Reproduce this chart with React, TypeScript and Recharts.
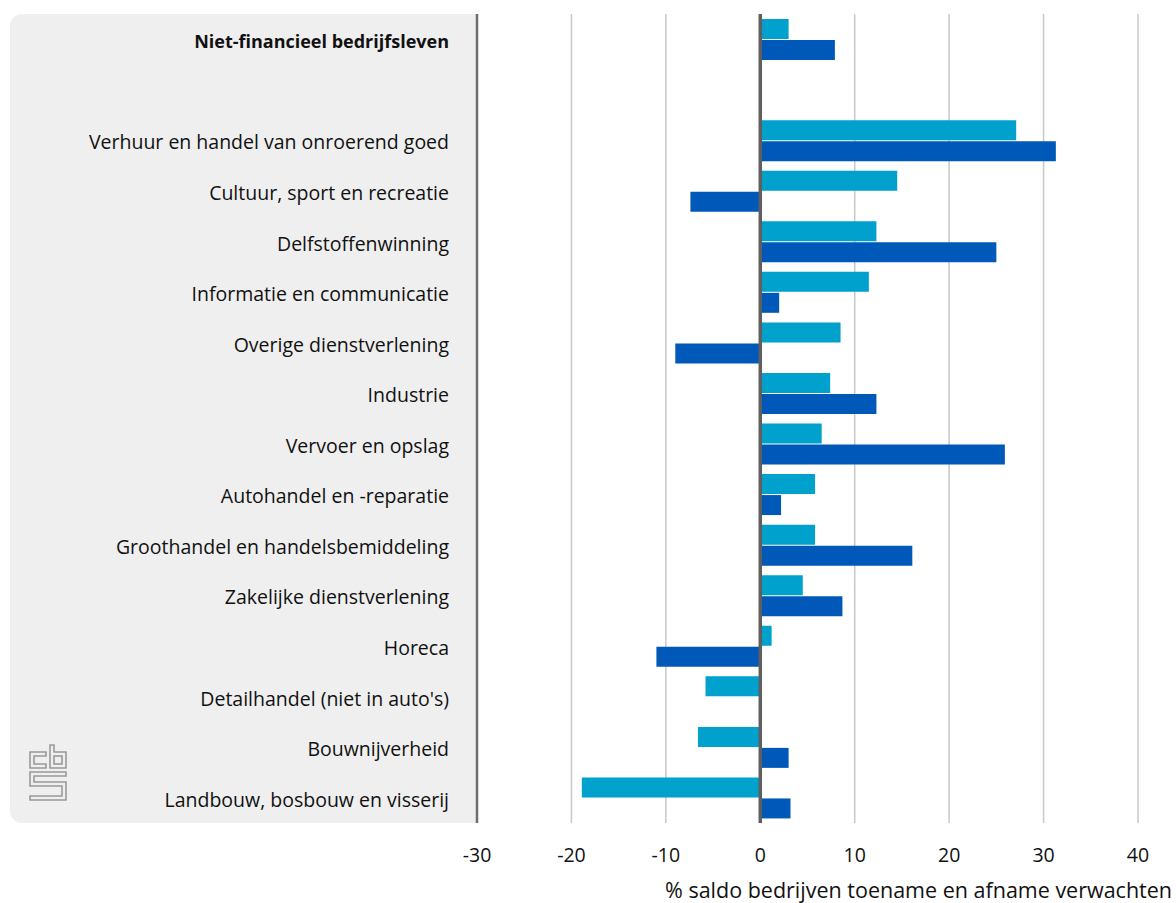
import React from 'react';
import { BarChart, Bar, XAxis, YAxis, CartesianGrid, ReferenceLine } from 'recharts';

const categories = [
  'Niet-financieel bedrijfsleven',
  ' ',
  'Verhuur en handel van onroerend goed',
  'Cultuur, sport en recreatie',
  'Delfstoffenwinning',
  'Informatie en communicatie',
  'Overige dienstverlening',
  'Industrie',
  'Vervoer en opslag',
  'Autohandel en -reparatie',
  'Groothandel en handelsbemiddeling',
  'Zakelijke dienstverlening',
  'Horeca',
  "Detailhandel (niet in auto's)",
  'Bouwnijverheid',
  'Landbouw, bosbouw en visserij',
];
const lightValues = [3.0, null, 27.1, 14.5, 12.3, 11.5, 8.5, 7.4, 6.5, 5.8, 5.8, 4.5, 1.2, -5.8, -6.6, -18.9];
const darkValues = [7.9, null, 31.3, -7.4, 25.0, 2.0, -9.0, 12.3, 25.9, 2.2, 16.1, 8.7, -11.0, 0, 3.0, 3.2];
const xTicks = [-30, -20, -10, 0, 10, 20, 30, 40];

const data = categories.map((name, i) => ({ name, a: lightValues[i], b: darkValues[i] }));

const FONT = '"Open Sans", sans-serif';

const CatTick = (props: any) => {
  const { y, payload } = props;
  const bold = payload.index === 0;
  return (
    <text x={449} y={y} dy={9} textAnchor="end" fontFamily={FONT} fontSize={bold ? 18 : 19.5}
      fontWeight={bold ? 700 : 400} fill="#111">
      {payload.value}
    </text>
  );
};

const ValTick = (props: any) => {
  const { x, payload } = props;
  return (
    <text x={x} y={862} textAnchor="middle" fontFamily={FONT} fontSize={19.5} fill="#111">
      {payload.value}
    </text>
  );
};

function Logo() {
  const s = '#999';
  return (
    <svg width={40} height={58} style={{ position: 'absolute', left: 29, top: 744 }}>
      <g fill="none" stroke={s} strokeWidth={1.6}>
        <path d="M1 8 H17 V12 H5 V20 H17 V24 H1 Z" />
        <path d="M21 1 H25 V8 H37 V24 H21 Z" />
        <rect x={25} y={12} width={8} height={8} />
        <path d="M1 28 H37 V32 H5 V38 H37 V56 H1 V52 H33 V42 H1 Z" />
      </g>
    </svg>
  );
}

export default function App() {
  return (
    <div style={{ position: 'absolute', left: 0, top: 0, width: 1176, height: 903, background: '#fff' }}>
      <div style={{ position: 'absolute', left: 10, top: 14, width: 467, height: 809, background: '#efefef', borderRadius: '12px 0 0 12px' }} />
      <Logo />
      <div style={{ position: 'absolute', left: 0, top: 0 }}>
        <BarChart width={1176} height={903} data={data} layout="vertical"
          margin={{ top: 14, right: 38, bottom: 0, left: 0 }} barSize={20} barGap={1}>
          <CartesianGrid horizontal={false} stroke="#c8c8c8" strokeWidth={1.5} />
          <XAxis type="number" domain={[-30, 40]} ticks={xTicks} axisLine={false} tickLine={false}
            tick={<ValTick />} height={80} />
          <YAxis type="category" dataKey="name" width={477} axisLine={{ stroke: '#6e6e6e', strokeWidth: 2.5 }}
            tickLine={false} tick={<CatTick />} interval={0} />
          <Bar dataKey="a" fill="#00a1cd" isAnimationActive={false} />
          <Bar dataKey="b" fill="#0058b8" isAnimationActive={false} />
          <ReferenceLine x={0} stroke="#5f5f5f" strokeWidth={3.5} />
        </BarChart>
      </div>
      <div style={{ position: 'absolute', right: 4, top: 875, fontFamily: FONT, fontSize: 21.5, color: '#111', whiteSpace: 'nowrap' }}>
        % saldo bedrijven toename en afname verwachten
      </div>
    </div>
  );
}
